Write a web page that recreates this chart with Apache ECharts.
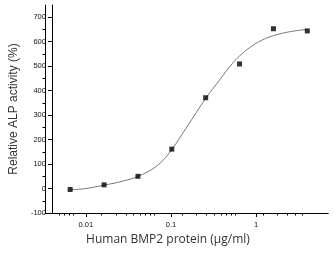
<!DOCTYPE html>
<html><head><meta charset="utf-8">
<script src="https://cdn.jsdelivr.net/npm/echarts@6/dist/echarts.min.js"></script>
<style>html,body{margin:0;padding:0;background:#fff}#w{position:relative;width:334px;height:256px}.c{position:absolute;left:0;top:0;width:334px;height:256px}</style>
</head><body><div id="w"><div id="c" class="c"></div><div id="m" class="c"></div><div id="l" class="c"></div></div>
<script>
// measured points
const conc = [0.00655, 0.0164, 0.041, 0.1024, 0.256, 0.64, 1.6, 4];
const activity = [-4, 15, 50, 161, 371, 509, 653, 644];
// fitted curve
const fitConc = [0.0066, 0.01, 0.0164, 0.025, 0.041, 0.07, 0.1024, 0.154, 0.256, 0.372, 0.53, 0.68, 0.9, 1.2, 1.6, 2.6, 4];
const fitVal = [-5, 0, 14, 27, 50, 95, 160, 252, 368, 443, 512, 550, 583, 608, 625, 642, 650];
// ticks
const xRange = [0.004, 7];
const xMajor = [0.01, 0.1, 1];
const xMinor = [0.005, 0.006, 0.007, 0.008, 0.009, 0.02, 0.03, 0.04, 0.05, 0.06, 0.07, 0.08, 0.09, 0.2, 0.3, 0.4, 0.5, 0.6, 0.7, 0.8, 0.9, 2, 3, 4, 5, 6, 7];
const yRange = [-100, 750];
const yMajor = [-100, 0, 100, 200, 300, 400, 500, 600, 700];
const yMinor = [-50, 50, 150, 250, 350, 450, 550, 650];
const xName = 'Human BMP2 protein (μg/ml)';
const yName = 'Relative ALP activity (%)';

// log10 mapping for the logarithmic concentration axis
const L = v => Math.log10(v);
const GRID = {left: 45, right: 6, top: 5, bottom: 43};
const lbl = () => ({fontFamily: 'Liberation Sans', fontSize: 7.5, color: '#111'});
const AL = () => ({show: true, onZero: false, lineStyle: {color: '#000'}});
const noAL = () => ({show: false, onZero: false});

// main chart: data, labels, names, major ticks
echarts.init(document.getElementById('c')).setOption({
  animation: false,
  grid: GRID,
  xAxis: {
    type: 'value', min: L(xRange[0]), max: L(xRange[1]), splitLine: {show: false},
    axisLine: AL(),
    axisTick: {show: true, customValues: xMajor.map(L), length: 4, lineStyle: {color: '#000'}},
    axisLabel: Object.assign({customValues: xMajor.map(L), margin: 8,
      formatter: v => String(parseFloat(Math.pow(10, v).toPrecision(3)))}, lbl()),
    name: xName, nameLocation: 'middle', nameGap: 21,
    nameTextStyle: {fontFamily: 'Open Sans', fontSize: 12, color: '#333', padding: [0, 44, 0, 0]}
  },
  yAxis: {
    type: 'value', min: yRange[0], max: yRange[1], splitLine: {show: false},
    axisLine: AL(),
    axisTick: {show: true, customValues: yMajor, length: 4, lineStyle: {color: '#000'}},
    axisLabel: Object.assign({customValues: yMajor, margin: 6}, lbl()),
    name: yName, nameLocation: 'middle', nameGap: 27,
    nameTextStyle: {fontFamily: 'Liberation Sans', fontSize: 12, color: '#333'}
  },
  series: [{
    type: 'line', smooth: 0.4, symbol: 'none',
    data: fitConc.map((c, i) => [L(c), fitVal[i]]),
    lineStyle: {color: '#777', width: 1}, z: 2
  }, {
    type: 'scatter', symbol: 'rect', symbolSize: 5,
    data: conc.map((c, i) => [L(c), activity[i]]),
    itemStyle: {color: '#000'}, z: 3
  }]
});

// overlay: minor ticks
echarts.init(document.getElementById('m')).setOption({
  animation: false,
  grid: GRID,
  xAxis: {
    type: 'value', min: L(xRange[0]), max: L(xRange[1]), splitLine: {show: false},
    axisLine: noAL(),
    axisTick: {show: true, customValues: xMinor.map(L), length: 2.5, lineStyle: {color: '#000'}},
    axisLabel: {customValues: xMinor.map(L), color: 'rgba(0,0,0,0)', fontSize: 6}
  },
  yAxis: {
    type: 'value', min: yRange[0], max: yRange[1], splitLine: {show: false},
    axisLine: noAL(),
    axisTick: {show: true, customValues: yMinor, length: 2.5, lineStyle: {color: '#000'}},
    axisLabel: {customValues: yMinor, color: 'rgba(0,0,0,0)', fontSize: 6}
  },
  series: [{type: 'scatter', data: []}]
});

// overlay: plain axis lines
echarts.init(document.getElementById('l')).setOption({
  animation: false,
  grid: GRID,
  xAxis: {type: 'value', min: L(xRange[0]), max: L(xRange[1]), splitLine: {show: false},
    axisLine: AL(), axisTick: {show: false}, axisLabel: {show: false}},
  yAxis: {type: 'value', min: yRange[0], max: yRange[1], splitLine: {show: false},
    axisLine: AL(), axisTick: {show: false}, axisLabel: {show: false}},
  series: [{type: 'scatter', data: []}]
});
</script></body></html>
